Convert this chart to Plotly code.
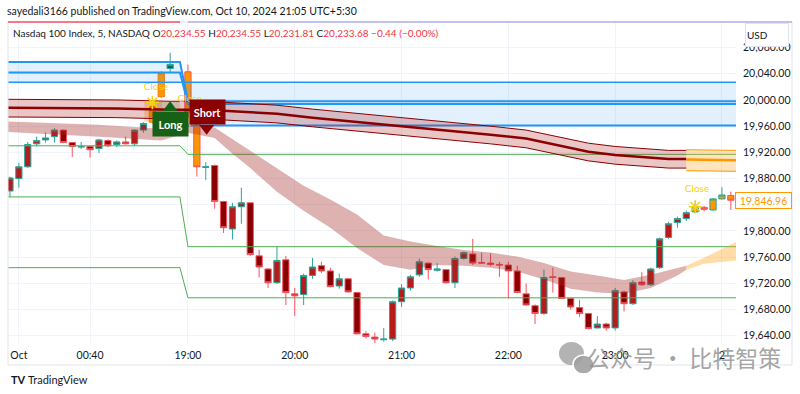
import plotly.graph_objects as go

# ---------------- data ----------------
# candle index (5-min bars; 0 = 19:00 bar)
cand_k = [-20, -19, -18, -17, -16, -15, -14, -13, -12, -11, -10, -9, -8, -7, -6, -5, -4, -3, -2,
          0, 1, 2, 3, 4, 5, 6, 7, 8, 9, 10, 11, 12, 13, 14, 15, 16, 17, 18, 19, 20,
          21, 22, 23, 24, 25, 26, 27, 28, 29, 30, 31, 32, 33, 34, 35, 36, 37, 38, 39, 40,
          41, 42, 43, 44, 45, 46, 47, 48, 49, 50, 51, 52, 53, 54, 55, 56, 57, 58, 59, 60, 61]
cand_open = [19861, 19880, 19898, 19933, 19939, 19944, 19954, 19935, 19928, 19929, 19926, 19938, 19932, 19936, 19933, 19954, 19966, 20005, 20048,
             20043, 19974, 19897, 19900, 19845, 19803, 19837, 19843, 19762, 19742, 19721, 19756, 19704, 19703, 19732, 19747, 19739, 19716, 19727, 19706, 19643,
             19638, 19634, 19635, 19692, 19713, 19733, 19751, 19740, 19741, 19721, 19758, 19765, 19752, 19751, 19749, 19748, 19739, 19704, 19686, 19674,
             19730, 19729, 19697, 19683, 19674, 19652, 19658, 19652, 19707, 19689, 19722, 19718, 19744, 19790, 19813, 19819, 19829, 19836, 19832, 19849, 19854]
cand_high = [19883, 19904, 19936, 19944, 19950, 19957, 19955, 19936, 19936, 19930, 19941, 19940, 19938, 19944, 19955, 19966, 20000, 20044, 20072,
             20054, 19976, 19905, 19901, 19846, 19843, 19866, 19844, 19771, 19743, 19776, 19762, 19713, 19735, 19759, 19753, 19744, 19735, 19728, 19707, 19647,
             19645, 19652, 19694, 19719, 19733, 19758, 19752, 19751, 19742, 19761, 19769, 19788, 19767, 19766, 19753, 19753, 19747, 19720, 19688, 19741,
             19744, 19730, 19698, 19695, 19675, 19670, 19660, 19713, 19709, 19725, 19737, 19744, 19790, 19814, 19822, 19831, 19846, 19838, 19850, 19867, 19860]
cand_low = [19852, 19866, 19896, 19929, 19935, 19935, 19934, 19913, 19925, 19912, 19919, 19928, 19928, 19932, 19930, 19950, 19964, 20003, 20042,
            19972, 19883, 19878, 19834, 19797, 19787, 19811, 19762, 19729, 19713, 19719, 19687, 19670, 19687, 19727, 19736, 19714, 19712, 19706, 19642, 19636,
            19629, 19631, 19632, 19684, 19709, 19730, 19726, 19738, 19720, 19713, 19756, 19748, 19750, 19746, 19730, 19697, 19705, 19686, 19658, 19672,
            19706, 19696, 19680, 19669, 19650, 19651, 19648, 19648, 19677, 19687, 19716, 19716, 19742, 19788, 19805, 19815, 19827, 19830, 19831, 19848, 19832]
cand_close = [19881, 19898, 19932, 19938, 19942, 19954, 19935, 19929, 19929, 19924, 19939, 19930, 19936, 19933, 19954, 19964, 19990, 20041, 20054,
              19974, 19898, 19898, 19845, 19805, 19837, 19843, 19764, 19745, 19721, 19755, 19706, 19701, 19732, 19745, 19739, 19715, 19727, 19707, 19643, 19639,
              19635, 19635, 19692, 19713, 19730, 19753, 19741, 19742, 19721, 19758, 19767, 19751, 19751, 19749, 19748, 19739, 19706, 19687, 19674, 19729,
              19729, 19697, 19684, 19674, 19651, 19658, 19652, 19709, 19689, 19721, 19718, 19742, 19788, 19811, 19819, 19828, 19836, 19833, 19849, 19855, 19846.96]
# candle colouring: n normal, o orange (signal), g green, r orange (recent)
cand_style = ['n'] * 16 + ['o', 'o', 'g', 'o', 'o'] + ['n'] * 55 + ['r'] * 5

# upper moving-average band
ub_k = [-20.3, -14, -8, -2, 2, 6, 10, 14, 18, 22, 26, 30, 34, 38, 41, 43, 45, 48, 51, 54, 56]
ub_mid = [19988, 19988, 19987, 19985, 19985, 19982, 19979, 19973, 19968, 19962, 19958, 19953, 19947, 19941, 19932, 19927, 19921, 19916, 19913, 19910, 19910]
ub_hi = [20001, 20001, 20000, 19998, 19998, 19995, 19992, 19986, 19981, 19975, 19971, 19966, 19960, 19954, 19945, 19940, 19934, 19929, 19926, 19923, 19923]
ub_lo = [19974, 19974, 19973, 19971, 19971, 19968, 19965, 19959, 19954, 19948, 19944, 19939, 19933, 19927, 19918, 19913, 19907, 19902, 19899, 19896, 19896]
ob_k = [56, 61.7]
ob_mid = [19909, 19908]
ob_hi = [19924, 19923]
ob_lo = [19892, 19891]

# lower moving-average cloud
lb_k = [-20.3, -10, -3, 0, 3, 5, 7, 10, 13, 16, 19, 22, 25, 28, 31, 34, 37, 40, 43, 46, 49, 52, 55, 56]
lb_hi = [19967, 19962, 19956, 19966, 19958, 19940, 19922, 19896, 19869, 19848, 19825, 19793, 19784, 19777, 19771, 19767, 19761, 19751, 19738, 19732, 19725, 19733, 19744, 19747]
lb_lo = [19951, 19944, 19938, 19950, 19942, 19918, 19896, 19860, 19831, 19805, 19774, 19748, 19741, 19748, 19747, 19744, 19738, 19726, 19712, 19706, 19704, 19713, 19732, 19741]
olb_k = [56, 58, 61.7]
olb_hi = [19747, 19759, 19784]
olb_lo = [19741, 19750, 19755]

# support / resistance step lines (green)
step_k = [-20.3, -0.9, 0, 61.7]
green1 = [19930, 19930, 19917, 19917]
green2 = [19852, 19852, 19776, 19776]
green3 = [19744, 19744, 19698, 19698]

# blue zones
blueA = [20058, 20058, 19998, 19998]
blueB = [20042, 20042, 19994, 19994]
blueC_k = [-20.3, 61.7]
blueC = [20027, 20027]
zoneL_k = [-20.3, -0.9]
zoneL_top = [20058, 20058]
zoneL_bot = [20027, 20027]
zoneR_k = [-0.3, 61.7]
zoneR_top = [20027, 20027]
zoneR_bot = [19961, 19961]

# signal labels
close_k = [-3.6, 0.2, 57.2]
close_p = [20019, 20000, 19863]
star_k = [-4, 0.2, 57]
star_p = [19996, 19970, 19837]
last_price = 19846.96

tick_k = [-19, -11, 0, 12, 24, 36, 48, 60]
tick_text = ['Oct', '00:40', '19:00', '20:00', '21:00', '22:00', '23:00', '2']

XR = [-20.22, 61.58]
YR = [19629, 20119]

# ---------------- figure ----------------
fig = go.Figure()

# blue zones
fig.add_trace(go.Scatter(x=zoneL_k, y=zoneL_top, mode='lines', line=dict(width=0), hoverinfo='skip'))
fig.add_trace(go.Scatter(x=zoneL_k, y=zoneL_bot, mode='lines', line=dict(width=0), fill='tonexty',
                         fillcolor='rgba(33,150,243,0.13)', hoverinfo='skip'))
fig.add_trace(go.Scatter(x=zoneR_k, y=zoneR_top, mode='lines', line=dict(width=0), hoverinfo='skip'))
fig.add_trace(go.Scatter(x=zoneR_k, y=zoneR_bot, mode='lines', line=dict(color='#2196f3', width=2), fill='tonexty',
                         fillcolor='rgba(33,150,243,0.13)', hoverinfo='skip'))
fig.add_trace(go.Scatter(x=step_k, y=blueA, mode='lines', line=dict(color='#2196f3', width=2), hoverinfo='skip'))
fig.add_trace(go.Scatter(x=step_k, y=blueB, mode='lines', line=dict(color='#2196f3', width=2), hoverinfo='skip'))
fig.add_trace(go.Scatter(x=blueC_k, y=blueC, mode='lines', line=dict(color='#2196f3', width=1.5), hoverinfo='skip'))

# green step lines
for g in (green1, green2, green3):
    fig.add_trace(go.Scatter(x=step_k, y=g, mode='lines', line=dict(color='#4caf50', width=1), hoverinfo='skip'))

# lower cloud
fig.add_trace(go.Scatter(x=lb_k, y=lb_hi, mode='lines', line=dict(width=0), hoverinfo='skip'))
fig.add_trace(go.Scatter(x=lb_k, y=lb_lo, mode='lines', line=dict(width=0), fill='tonexty',
                         fillcolor='rgba(165,42,42,0.36)', hoverinfo='skip'))
fig.add_trace(go.Scatter(x=olb_k, y=olb_hi, mode='lines', line=dict(width=0), hoverinfo='skip'))
fig.add_trace(go.Scatter(x=olb_k, y=olb_lo, mode='lines', line=dict(width=0), fill='tonexty',
                         fillcolor='rgba(255,167,38,0.4)', hoverinfo='skip'))

# upper band
fig.add_trace(go.Scatter(x=ub_k, y=ub_hi, mode='lines', line=dict(color='#8b0000', width=1), hoverinfo='skip'))
fig.add_trace(go.Scatter(x=ub_k, y=ub_lo, mode='lines', line=dict(color='#8b0000', width=1), fill='tonexty',
                         fillcolor='rgba(178,34,34,0.26)', hoverinfo='skip'))
fig.add_trace(go.Scatter(x=ub_k, y=ub_mid, mode='lines', line=dict(color='#8b0000', width=2.5), hoverinfo='skip'))
fig.add_trace(go.Scatter(x=ob_k, y=ob_hi, mode='lines', line=dict(color='#ff9800', width=1), hoverinfo='skip'))
fig.add_trace(go.Scatter(x=ob_k, y=ob_lo, mode='lines', line=dict(color='#ff9800', width=1), fill='tonexty',
                         fillcolor='rgba(255,167,38,0.3)', hoverinfo='skip'))
fig.add_trace(go.Scatter(x=ob_k, y=ob_mid, mode='lines', line=dict(color='#ff9800', width=2.5), hoverinfo='skip'))

# close labels (under candles)
fig.add_trace(go.Scatter(x=close_k, y=close_p, mode='text', text=['Close'] * 3,
                         textfont=dict(color='#f5d312', size=10, family='Lato'), hoverinfo='skip'))
fig.add_trace(go.Scatter(x=star_k, y=star_p, mode='markers',
                         marker=dict(symbol='asterisk-open', size=11, color='#f5d312',
                                     line=dict(color='#f5d312', width=1.5)),
                         hoverinfo='skip'))

# candles
styles = {
    'n': dict(inc_fill='#b71c1c', inc_line='#26a69a', dec_fill='#880000', dec_line='#f7525f'),
    'o': dict(inc_fill='#ff9800', inc_line='#f57c00', dec_fill='#ff9800', dec_line='#f7525f'),
    'g': dict(inc_fill='#1b5e20', inc_line='#26a69a', dec_fill='#1b5e20', dec_line='#26a69a'),
    'r': dict(inc_fill='#ff9800', inc_line='#26a69a', dec_fill='#ff9800', dec_line='#f7525f'),
}
for s, st in styles.items():
    idx = [i for i, c in enumerate(cand_style) if c == s]
    fig.add_trace(go.Candlestick(
        x=[cand_k[i] for i in idx],
        open=[cand_open[i] for i in idx], high=[cand_high[i] for i in idx],
        low=[cand_low[i] for i in idx], close=[cand_close[i] for i in idx],
        increasing=dict(fillcolor=st['inc_fill'], line=dict(color=st['inc_line'], width=1)),
        decreasing=dict(fillcolor=st['dec_fill'], line=dict(color=st['dec_line'], width=1)),
        whiskerwidth=0, hoverinfo='skip'))

# label pointers
fig.add_trace(go.Scatter(x=[-2.0], y=[19988], mode='markers',
                         marker=dict(symbol='triangle-up', size=13, color='#176117'), hoverinfo='skip'))
fig.add_trace(go.Scatter(x=[2.1], y=[19957], mode='markers',
                         marker=dict(symbol='triangle-down', size=13, color='#8b0000'), hoverinfo='skip'))


def px(xp):
    return (xp - 8) / 728.0


def py(yp):
    return (343 - yp) / 321.0


shapes = [
    dict(type='rect', xref='x', yref='y', x0=-4.9, x1=-2.9, y0=19967, y1=19997,
         fillcolor='rgba(255,167,38,0.35)', line=dict(width=0), layer='below'),
    dict(type='rect', xref='x', yref='y', x0=-3.9, x1=-0.9, y0=19982, y1=19997,
         fillcolor='rgba(76,175,80,0.22)', line=dict(width=0), layer='below'),
    dict(type='rect', xref='paper', yref='paper', x0=0, x1=px(792), y0=py(365), y1=1,
         line=dict(color='#e0e3eb', width=1), fillcolor='rgba(0,0,0,0)'),
    dict(type='line', xref='paper', yref='paper', x0=0, x1=px(180), y0=py(22), y1=py(22),
         line=dict(color='#f7525f', width=1.5)),
    dict(type='line', xref='paper', yref='paper', x0=px(188), x1=px(792), y0=py(22), y1=py(22),
         line=dict(color='#b3b1e8', width=1.5)),
    # wechat-like icon of the watermark
    dict(type='circle', xref='paper', yref='paper', x0=px(559), x1=px(584), y0=py(365), y1=py(342),
         fillcolor='rgba(160,160,160,0.8)', line=dict(width=0)),
    dict(type='circle', xref='paper', yref='paper', x0=px(573), x1=px(594), y0=py(374), y1=py(355),
         fillcolor='rgba(160,160,160,0.9)', line=dict(color='white', width=1.5)),
]

red = '#f23645'
header2 = ("Nasdaq 100 Index, 5, NASDAQ O<span style='color:%s'>20,234.55</span> "
           "H<span style='color:%s'>20,234.55</span> L<span style='color:%s'>20,231.81</span> "
           "C<span style='color:%s'>20,233.68</span> <span style='color:%s'>\u22120.44 (\u22120.00%%)</span>"
           % (red, red, red, red, red))

annotations = [
    dict(text='sayedali3166 published on TradingView.com, Oct 10, 2024 21:05 UTC+5:30',
         xref='paper', yref='paper', x=0, y=py(11), xanchor='left', yanchor='middle', showarrow=False,
         xshift=-3, font=dict(size=10.5, color='#131722')),
    dict(text=header2, xref='paper', yref='paper', x=px(14), y=py(33), xanchor='left', yanchor='middle',
         showarrow=False, xshift=-3, font=dict(size=10, color='#131722')),
    dict(text='USD', xref='paper', yref='paper', x=px(767), y=py(35.5), xanchor='center', yanchor='middle',
         showarrow=False, font=dict(size=10, color='#131722'), bgcolor='white', bordercolor='#e0e3eb',
         borderwidth=1, width=40, height=20, align='left'),
    dict(text='19,846.96', xref='paper', yref='y', x=px(763), y=last_price, xanchor='center',
         yanchor='middle', showarrow=False,
         font=dict(size=10.5, color='#ff9800'), bgcolor='white', bordercolor='#ff9800', borderwidth=1,
         width=53, height=13),
    dict(text='<b>Long</b>', xref='x', yref='y', x=-2.0, y=19964, showarrow=False,
         font=dict(size=11, color='white'), bgcolor='#176117', width=33, height=22),
    dict(text='<b>Short</b>', xref='x', yref='y', x=2.25, y=19981, showarrow=False,
         font=dict(size=11, color='white'), bgcolor='#8b0000', width=33, height=22),
    dict(text='<b>TV</b>', xref='paper', yref='paper', x=px(9), y=py(380), xanchor='left', yanchor='middle',
         showarrow=False, font=dict(size=11, color='#131722')),
    dict(text='TradingView', xref='paper', yref='paper', x=px(26), y=py(380), xanchor='left',
         yanchor='middle', showarrow=False, font=dict(size=11, color='#131722')),
    dict(text='公众号 · 比特智策', xref='paper', yref='paper', x=px(684), y=py(357), xanchor='center',
         yanchor='middle', showarrow=False,
         font=dict(size=23, color='rgba(140,140,140,0.8)', family='Noto Sans CJK SC')),
]

fig.update_layout(
    width=800, height=394,
    margin=dict(l=8, r=64, t=22, b=51),
    paper_bgcolor='white', plot_bgcolor='white',
    showlegend=False, hovermode=False,
    boxmode='overlay', boxgap=0.3, boxgroupgap=0,
    font=dict(family='Lato', size=10.5, color='#131722'),
    shapes=shapes, annotations=annotations,
    xaxis=dict(range=XR, tickmode='array', tickvals=tick_k, ticktext=tick_text,
               showgrid=True, gridcolor='#f0f3fa', zeroline=False, showline=False,
               rangeslider=dict(visible=False), fixedrange=True, ticklabelstandoff=4,
               tickfont=dict(size=10.5, color='#131722')),
    yaxis=dict(range=YR, side='right', tick0=19640, dtick=40, tickformat=',.2f',
               showgrid=True, gridcolor='#f0f3fa', zeroline=False, showline=False,
               fixedrange=True, ticklabelstandoff=6, tickfont=dict(size=10.5, color='#131722')),
)

fig.write_html('out.html', config={'displayModeBar': False, 'staticPlot': True},
               post_script="document.body.style.margin='0px';")
